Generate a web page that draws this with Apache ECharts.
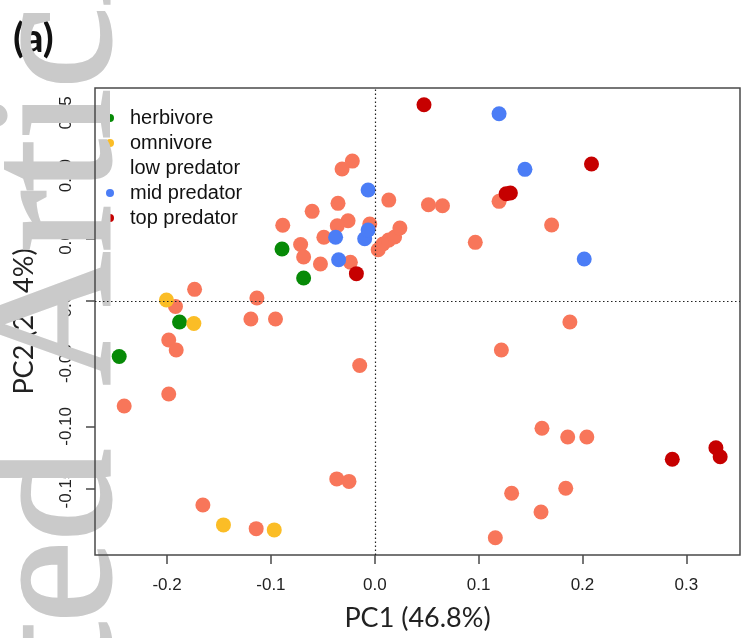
<!DOCTYPE html>
<html>
<head>
<meta charset="utf-8">
<script src="https://cdn.jsdelivr.net/npm/echarts@6/dist/echarts.min.js"></script>
<style>
html,body{margin:0;padding:0;background:#fff;}
#chart{width:741px;height:638px;}
</style>
</head>
<body>
<div id="chart"></div>
<script>
// ---- data (PC1, PC2) ----
const herbivore = [
  [-0.0893, 0.0415], [-0.0685, 0.0183], [-0.1880, -0.0167], [-0.2461, -0.0443]
];
const omnivore = [
  [-0.2006, 0.0008], [-0.1742, -0.0179], [-0.1457, -0.1786], [-0.0968, -0.1826]
];
const lowPredator = [
  [-0.0886, 0.0604], [-0.0714, 0.0451], [-0.0685, 0.0351], [-0.0603, 0.0715],
  [-0.1735, 0.0093], [-0.1919, -0.0044], [-0.1135, 0.0024], [-0.1193, -0.0144],
  [-0.0956, -0.0144], [-0.1984, -0.0311], [-0.1912, -0.0391], [-0.1984, -0.0742],
  [-0.2413, -0.0837], [-0.1655, -0.1627], [-0.1142, -0.1816], [-0.0216, 0.1116],
  [-0.0315, 0.1053], [0.0135, 0.0805], [-0.0354, 0.0779], [-0.0257, 0.0640],
  [-0.0361, 0.0600], [-0.0048, 0.0614], [-0.0490, 0.0508], [-0.0523, 0.0295],
  [-0.0235, 0.0309], [0.0033, 0.0409], [0.0079, 0.0455], [0.0133, 0.0486],
  [0.0191, 0.0510], [0.0242, 0.0582], [0.0517, 0.0768], [0.0652, 0.0760],
  [0.1197, 0.0795], [0.1703, 0.0606], [0.0968, 0.0468], [0.1879, -0.0167],
  [0.1219, -0.0391], [-0.0145, -0.0514], [-0.0366, -0.1419], [-0.0248, -0.1439],
  [0.1610, -0.1015], [0.1858, -0.1085], [0.2042, -0.1085], [0.1318, -0.1533],
  [0.1839, -0.1494], [0.1601, -0.1683], [0.1161, -0.1888]
];
const midPredator = [
  [0.1197, 0.1494], [0.1446, 0.1050], [0.2017, 0.0335], [-0.0064, 0.0885],
  [-0.0377, 0.0508], [-0.0097, 0.0497], [-0.0064, 0.0566], [-0.0348, 0.0329]
];
const topPredator = [
  [0.0474, 0.1565], [0.2087, 0.1093], [0.1265, 0.0856], [0.1306, 0.0861],
  [-0.0177, 0.0218], [0.2865, -0.1262], [0.3285, -0.1170], [0.3326, -0.1242]
];
const groupNames = ['herbivore', 'omnivore', 'low predator', 'mid predator', 'top predator'];
const xTicks = [-0.2, -0.1, 0.0, 0.1, 0.2, 0.3];
const yTicks = [-0.15, -0.10, -0.05, 0.00, 0.05, 0.10, 0.15];
const watermarkWords = ['Accepted', 'Article'];

const colors = {
  'herbivore': '#078a07',
  'omnivore': '#fbbd26',
  'low predator': '#f8765a',
  'mid predator': '#4b7df6',
  'top predator': '#c60000'
};

const chart = echarts.init(document.getElementById('chart'), null, {renderer: 'canvas'});

function pt(name, data) {
  return {
    name: name, type: 'scatter', data: data, symbol: 'circle', symbolSize: 15, z: 2,
    itemStyle: {color: colors[name], opacity: 1}, silent: true, animation: false
  };
}

const wmStyle = {
  fontFamily: 'Liberation Serif', fontWeight: 'normal', fontSize: 184,
  fill: '#cacaca', stroke: '#cacaca', lineWidth: 3, verticalAlign: 'middle'
};

const axisColor = '#4a4a4a';
const option = {
  backgroundColor: '#ffffff',
  animation: false,
  title: {
    text: '(a)', left: 8, top: 14, z: 0,
    textStyle: {fontFamily: 'Lato', fontWeight: 'bold', fontSize: 40, color: '#111'}
  },
  grid: {
    left: 95, right: 1, top: 88, bottom: 83, show: true, z: 3,
    borderColor: axisColor, borderWidth: 1.5, backgroundColor: 'transparent'
  },
  legend: {
    orient: 'vertical', left: 101, top: 103, z: 0,
    itemWidth: 24, itemHeight: 8, itemGap: 5, icon: 'circle',
    selectedMode: false,
    textStyle: {fontFamily: 'Liberation Sans', fontSize: 20, color: '#111', padding: [0, 0, 0, 3]},
    data: groupNames.map(n => n === 'low predator'
      ? {name: n, itemStyle: {opacity: 0}}
      : {name: n})
  },
  xAxis: {
    type: 'value', min: -0.2694, max: 0.3517, z: 0,
    splitLine: {show: false},
    axisLine: {show: false, onZero: false},
    axisTick: {show: true, customValues: xTicks, length: 9, lineStyle: {color: axisColor, width: 1.5}},
    axisLabel: {
      customValues: xTicks, formatter: v => Number(v).toFixed(1),
      fontFamily: 'Liberation Sans', fontSize: 17, color: '#222', margin: 22
    },
    name: 'PC1 (46.8%)', nameLocation: 'middle', nameGap: 50,
    nameTextStyle: {fontFamily: 'Lato', fontSize: 27, color: '#222'}
  },
  yAxis: {
    type: 'value', min: -0.2026, max: 0.1699, z: 0,
    splitLine: {show: false},
    axisLine: {show: false, onZero: false},
    axisTick: {show: true, customValues: yTicks, length: 9, lineStyle: {color: axisColor, width: 1.5}},
    axisLabel: {
      customValues: yTicks, formatter: v => Number(v).toFixed(2), rotate: 90,
      fontFamily: 'Liberation Sans', fontSize: 17, color: '#222', margin: 20
    },
    name: 'PC2 (20.4%)', nameLocation: 'middle', nameGap: 57,
    nameTextStyle: {fontFamily: 'Lato', fontSize: 27, color: '#222'}
  },
  graphic: [{
    type: 'text', z: 1, silent: true,
    x: 61, y: 449, rotation: Math.PI / 2,
    style: Object.assign({text: watermarkWords[0], align: 'right'}, wmStyle)
  }, {
    type: 'text', z: 1, silent: true,
    x: 61, y: 385, rotation: Math.PI / 2,
    style: Object.assign({text: watermarkWords[1], align: 'left'}, wmStyle)
  }],
  series: [
    {
      type: 'scatter', data: [], silent: true, z: 1,
      markLine: {
        silent: true, symbol: 'none', animation: false,
        label: {show: false},
        lineStyle: {type: [1.5, 2.5], color: '#222', width: 1.2},
        data: [{xAxis: 0}, {yAxis: 0}]
      }
    },
    pt('low predator', lowPredator),
    pt('herbivore', herbivore),
    pt('omnivore', omnivore),
    pt('mid predator', midPredator),
    pt('top predator', topPredator)
  ]
};
chart.setOption(option);
</script>
</body>
</html>
